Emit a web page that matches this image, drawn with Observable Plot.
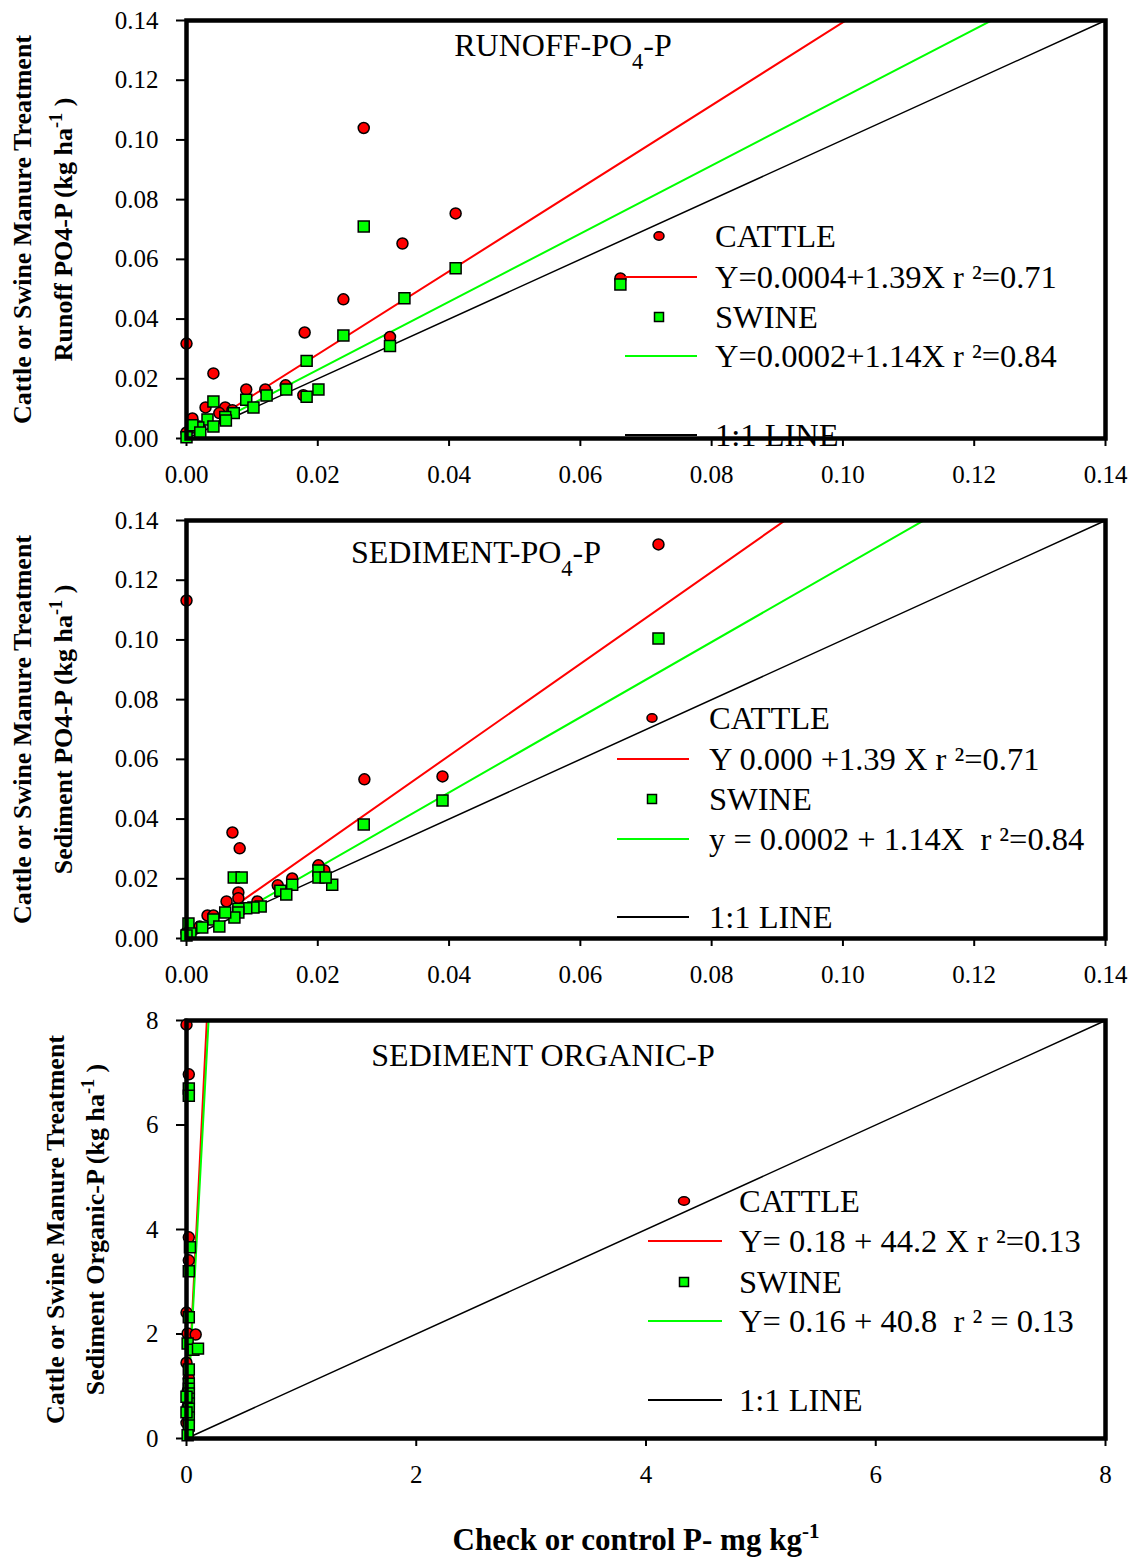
<!DOCTYPE html>
<html>
<head>
<meta charset="utf-8">
<script src="https://cdn.jsdelivr.net/npm/d3@7"></script>
<script src="https://cdn.jsdelivr.net/npm/@observablehq/plot@0.6"></script>
<style>
  body { margin: 0; background: white; }
  #xtitle { font: bold 31px "Liberation Serif", serif; height: 60px; line-height: 40px; padding-top: 20px; box-sizing: border-box; text-align: center; margin-left: 139px; width: 994px; color: black; }
  #xtitle sup { font-size: 21px; vertical-align: 12px; line-height: 0; }
  svg text { white-space: pre; }
</style>
</head>
<body>
<div id="chart"></div>
<div id="xtitle">Check or control P- mg kg<sup>-1</sup></div>
<script>
// ---------- DATA ----------
// Panel 1: Runoff PO4-P
const runoffCattleX = [0, 0.0270, 0.0410, 0.0329, 0.0239, 0.0180, 0.0041, 0.0091, 0.0120, 0.0151, 0.0310, 0.0178, 0.0661, 0.0029, 0.0009, 0.0059, 0.0070, 0.0050, 0.0000, 0.0020];
const runoffCattleY = [0.0318, 0.1040, 0.0754, 0.0653, 0.0466, 0.0355, 0.0218, 0.0164, 0.0164, 0.0178, 0.0340, 0.0145, 0.0536, 0.0104, 0.0067, 0.0104, 0.0095, 0.0085, 0.0020, 0.0040];
const runoffSwineX = [0.0270, 0.0410, 0.0332, 0.0661, 0.0239, 0.0183, 0.0310, 0.0201, 0.0183, 0.0152, 0.0122, 0.0091, 0.0102, 0.0041, 0.0072, 0.0059, 0.0032, 0.0018, 0.0041, 0.0009, 0.0000, 0.0021, 0.0060];
const runoffSwineY = [0.0710, 0.0570, 0.0470, 0.0516, 0.0345, 0.0260, 0.0310, 0.0164, 0.0140, 0.0164, 0.0144, 0.0130, 0.0104, 0.0124, 0.0085, 0.0072, 0.0064, 0.0037, 0.0040, 0.0044, 0.0004, 0.0020, 0.0060];
// Panel 2: Sediment PO4-P
const sedCattleX = [0, 0.0719, 0.0271, 0.0390, 0.0070, 0.0081, 0.0061, 0.0079, 0.0079, 0.0032, 0.0041, 0.0139, 0.0161, 0.0201, 0.0210, 0.0108, 0.0000, 0.0020];
const sedCattleY = [0.1132, 0.1320, 0.0533, 0.0543, 0.0355, 0.0302, 0.0124, 0.0154, 0.0135, 0.0077, 0.0077, 0.0178, 0.0201, 0.0245, 0.0228, 0.0124, 0.0020, 0.0040];
const sedSwineX = [0.0719, 0.0390, 0.0270, 0.0072, 0.0084, 0.0222, 0.0201, 0.0201, 0.0212, 0.0161, 0.0143, 0.0152, 0.0113, 0.0102, 0.0091, 0.0079, 0.0079, 0.0073, 0.0059, 0.0041, 0.0050, 0.0024, 0.0003, 0.0006, 0.0000];
const sedSwineY = [0.1005, 0.0462, 0.0382, 0.0204, 0.0204, 0.0180, 0.0228, 0.0204, 0.0204, 0.0180, 0.0160, 0.0147, 0.0107, 0.0104, 0.0101, 0.0100, 0.0087, 0.0070, 0.0087, 0.0064, 0.0040, 0.0037, 0.0050, 0.0017, 0.0010];
// Panel 3: Sediment Organic-P
const orgCattleX = [0.00, 0.02, 0.02, 0.02, 0.00, 0.01, 0.08, 0.00, 0.02, 0.01, 0.01, 0.00];
const orgCattleY = [7.92, 6.97, 3.85, 3.41, 2.41, 2.01, 1.99, 1.45, 1.15, 0.90, 0.60, 0.30];
const orgSwineX = [0.02, 0.02, 0.03, 0.02, 0.02, 0.01, 0.06, 0.10, 0.02, 0.02, 0.02, 0.02, 0.02, 0.02, 0.02, 0.02, 0.02, 0.01, 0.00, 0.00];
const orgSwineY = [6.70, 6.56, 3.66, 3.20, 2.32, 1.82, 1.70, 1.72, 1.32, 1.05, 0.95, 0.86, 0.76, 0.67, 0.57, 0.40, 0.25, 0.06, 0.50, 0.80];

// Regression lines as drawn: [intercept, slope, first x]
const runoffFitCattle = [0.0004, 1.39, 0.007];
const runoffFitSwine = [0.0002, 1.14, 0.005];
const sedFitCattle = [-0.0004, 1.54, 0.0072];
const sedFitSwine = [-0.0015, 1.26, 0.0078];
const orgFitCattle = [0.18, 44.2, 0];
const orgFitSwine = [0.16, 40.8, 0];

// Ticks
const po4Ticks = [0, 0.02, 0.04, 0.06, 0.08, 0.10, 0.12, 0.14];
const orgTicks = [0, 2, 4, 6, 8];

// Texts
const titles = ["RUNOFF-PO_{4}-P", "SEDIMENT-PO_{4}-P", "SEDIMENT ORGANIC-P"];
const yLine1 = "Cattle or Swine Manure Treatment";
const yLine2 = ["Runoff PO4-P (kg ha^{-1} )", "Sediment PO4-P (kg ha^{-1} )", "Sediment Organic-P (kg ha^{-1} )"];
const legendRunoff = ["CATTLE", "Y=0.0004+1.39X r ²=0.71", "SWINE", "Y=0.0002+1.14X r ²=0.84", "1:1 LINE"];
const legendSed = ["CATTLE", "Y 0.000 +1.39 X r ²=0.71", "SWINE", "y = 0.0002 + 1.14X  r ²=0.84", "1:1 LINE"];
const legendOrg = ["CATTLE", "Y= 0.18 + 44.2 X r ²=0.13", "SWINE", "Y= 0.16 + 40.8  r ² = 0.13", "1:1 LINE"];

// ---------- HELPERS ----------
const RED = "#ff0000", GREEN = "#00ff00";
const SVGNS = "http://www.w3.org/2000/svg";
const zip = (xs, ys) => xs.map((x, i) => ({x, y: ys[i]}));
const fitLine = (f, xmax) => [{x: f[2], y: f[0] + f[1] * f[2]}, {x: xmax, y: f[0] + f[1] * xmax}];

function richify(svg) {
  d3.select(svg).selectAll("text").each(function () {
    const s = this.textContent;
    if (!/[_^]\{/.test(s)) return;
    while (this.firstChild) this.removeChild(this.firstChild);
    const re = /([_^])\{([^}]*)\}/g;
    let last = 0, m;
    const parts = [];
    while ((m = re.exec(s))) {
      if (m.index > last) parts.push({t: s.slice(last, m.index)});
      parts.push({t: m[2], k: m[1]});
      last = re.lastIndex;
    }
    if (last < s.length) parts.push({t: s.slice(last)});
    for (const p of parts) {
      const ts = document.createElementNS(SVGNS, "tspan");
      ts.textContent = p.t;
      if (p.k) {
        ts.setAttribute("font-size", "70%");
        ts.setAttribute("baseline-shift", p.k === "^" ? "super" : "sub");
      }
      this.appendChild(ts);
    }
  });
}

function addLegend(svg, L, labels) {
  const g = d3.select(svg).append("g")
    .attr("font-family", "'Liberation Serif', serif").attr("font-size", 32.5)
    .attr("fill", "black").attr("text-anchor", "start");
  const r = L.rows;
  g.append("ellipse").attr("cx", L.sym).attr("cy", r[0]).attr("rx", L.rx).attr("ry", 4.2)
    .attr("fill", RED).attr("stroke", "black").attr("stroke-width", 1.5);
  g.append("line").attr("x1", L.l1).attr("x2", L.l2).attr("y1", r[1]).attr("y2", r[1])
    .attr("stroke", RED).attr("stroke-width", 2);
  g.append("rect").attr("x", L.sym - 4.5).attr("y", r[2] - 4.5).attr("width", 9).attr("height", 9)
    .attr("fill", GREEN).attr("stroke", "black").attr("stroke-width", 1.5);
  g.append("line").attr("x1", L.l1).attr("x2", L.l2).attr("y1", r[3]).attr("y2", r[3])
    .attr("stroke", GREEN).attr("stroke-width", 2);
  g.append("line").attr("x1", L.l1).attr("x2", L.l2).attr("y1", r[4]).attr("y2", r[4])
    .attr("stroke", "black").attr("stroke-width", 2);
  labels.forEach((t, i) => {
    g.append("text").attr("x", L.tx).attr("y", r[i]).attr("dy", "0.35em").text(t);
  });
}

function panel(o) {
  const svg = Plot.plot({
    width: 1133, height: 500,
    marginLeft: 186, marginRight: 28, marginTop: 20, marginBottom: 62,
    style: {fontFamily: "'Liberation Serif', serif", fontSize: "25px", color: "black", background: "white", overflow: "visible"},
    x: {domain: o.domain, ticks: o.ticks, tickFormat: o.fmt, tickSize: 8, tickPadding: 19, label: null},
    y: {domain: o.domain, ticks: o.ticks, tickFormat: o.fmt, tickSize: 10, tickPadding: 18, label: null},
    marks: [
      Plot.line([{x: o.domain[0], y: o.domain[0]}, {x: o.domain[1], y: o.domain[1]}], {x: "x", y: "y", stroke: "black", strokeWidth: 1.5}),
      Plot.line(fitLine(o.fitC, o.domain[1]), {x: "x", y: "y", stroke: RED, strokeWidth: 2, clip: true}),
      Plot.line(fitLine(o.fitS, o.domain[1]), {x: "x", y: "y", stroke: GREEN, strokeWidth: 2, clip: true}),
      Plot.dot(o.cattle, {x: "x", y: "y", r: 5.5, fill: RED, stroke: "black", strokeWidth: 1.5}),
      Plot.dot(o.swine, {x: "x", y: "y", symbol: "square", r: 6.2, fill: GREEN, stroke: "black", strokeWidth: 1.5}),
      Plot.frame({stroke: "black", strokeWidth: 4.5}),
      Plot.text([o.title], {text: d => d, frameAnchor: "top", lineAnchor: "middle", textAnchor: "middle", dx: o.tdx, dy: o.tdy, fontSize: 32}),
      Plot.text([yLine1], {text: d => d, frameAnchor: "left", textAnchor: "middle", lineAnchor: "middle", dx: o.ydx1, rotate: -90, fontSize: 26, fontWeight: "bold"}),
      Plot.text([o.ylab2], {text: d => d, frameAnchor: "left", textAnchor: "middle", lineAnchor: "middle", dx: o.ydx2, rotate: -90, fontSize: 26, fontWeight: "bold"})
    ]
  });
  d3.select(svg).selectAll('g[aria-label$="tick"]').attr("stroke-width", 2);
  richify(svg);
  addLegend(svg, o.legendPos, o.legend);
  svg.style.display = "block";
  document.getElementById("chart").appendChild(svg);
}

panel({
  domain: [0, 0.14], ticks: po4Ticks, fmt: d3.format(".2f"),
  cattle: zip(runoffCattleX, runoffCattleY), swine: zip(runoffSwineX, runoffSwineY),
  fitC: runoffFitCattle, fitS: runoffFitSwine,
  title: titles[0], tdx: -83, tdy: 25,
  ylab2: yLine2[0], ydx1: -164, ydx2: -123,
  legend: legendRunoff,
  legendPos: {sym: 659, rx: 5, l1: 625, l2: 697, tx: 715, rows: [236, 277, 317, 356, 435]}
});
panel({
  domain: [0, 0.14], ticks: po4Ticks, fmt: d3.format(".2f"),
  cattle: zip(sedCattleX, sedCattleY), swine: zip(sedSwineX, sedSwineY),
  fitC: sedFitCattle, fitS: sedFitSwine,
  title: titles[1], tdx: -170, tdy: 32,
  ylab2: yLine2[1], ydx1: -164, ydx2: -123,
  legend: legendSed,
  legendPos: {sym: 652, rx: 5, l1: 617, l2: 689, tx: 709, rows: [218, 259, 299, 339, 417]}
});
panel({
  domain: [0, 8], ticks: orgTicks, fmt: d => String(d),
  cattle: zip(orgCattleX, orgCattleY), swine: zip(orgSwineX, orgSwineY),
  fitC: orgFitCattle, fitS: orgFitSwine,
  title: titles[2], tdx: -103, tdy: 35,
  ylab2: yLine2[2], ydx1: -131, ydx2: -91,
  legend: legendOrg,
  legendPos: {sym: 684, rx: 5.5, l1: 648, l2: 722, tx: 739, rows: [201, 241, 282, 321, 400]}
});
</script>
</body>
</html>
